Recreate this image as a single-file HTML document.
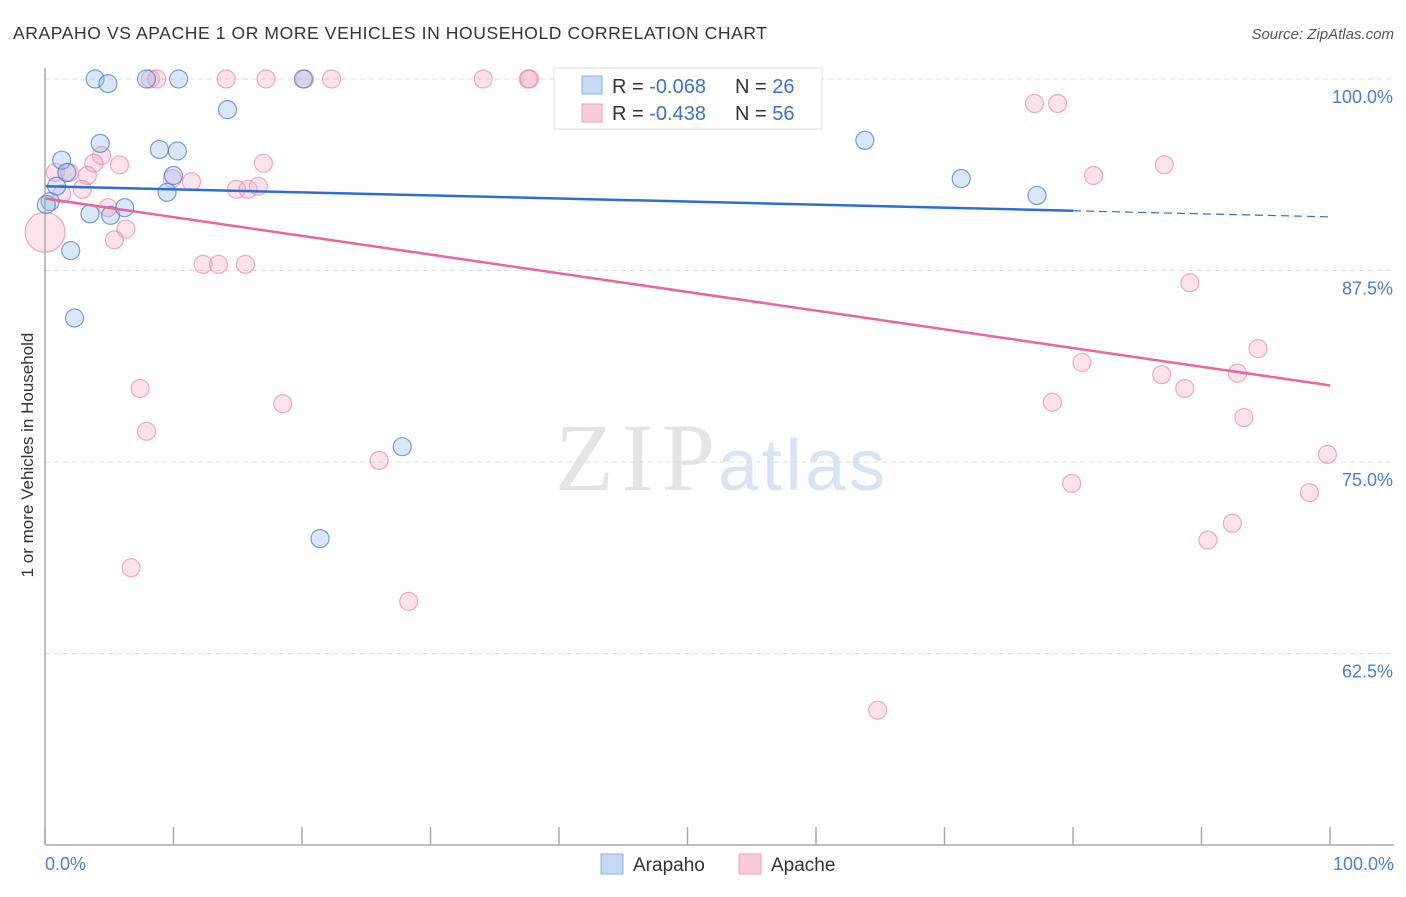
<!DOCTYPE html>
<html><head><meta charset="utf-8"><style>
body{margin:0;background:#fff;font-family:"Liberation Sans",sans-serif;}
#c{position:relative;width:1406px;height:892px;}
</style></head><body>
<div id="c">
<svg id="s" width="1406" height="892" xmlns="http://www.w3.org/2000/svg">
<text x="13" y="39" font-size="17.5" fill="#333" textLength="754">ARAPAHO VS APACHE 1 OR MORE VEHICLES IN HOUSEHOLD CORRELATION CHART</text>
<text x="1394" y="39" font-size="15" fill="#555" text-anchor="end" font-style="italic">Source: ZipAtlas.com</text>
<text x="555" y="490" font-size="96" fill="#e4e4e4" textLength="160" font-family="Liberation Serif">ZIP</text>
<text x="718" y="490" font-size="72" fill="#d6e4f5" textLength="167">atlas</text>
<text x="33" y="455" font-size="17" fill="#333" text-anchor="middle" transform="rotate(-90 33 455)">1 or more Vehicles in Household</text>
<g id="grid"></g><g id="pts"></g><g id="lines"></g>
<line x1="45" y1="68" x2="45" y2="845" stroke="#aaa" stroke-width="1.5"/>
<line x1="45" y1="845" x2="1394" y2="845" stroke="#aaa" stroke-width="1.5"/>
<text x="45" y="870" font-size="18" fill="#4a7fd4">0.0%</text>
<text x="1394" y="870" font-size="18" fill="#4a7fd4" text-anchor="end">100.0%</text>
<g>
<rect x="554" y="68" width="268" height="61" fill="#fff" stroke="#ddd"/>
<rect x="582" y="76" width="20" height="18" fill="#c6d9f5" stroke="#8ab0e8"/>
<rect x="582" y="104" width="20" height="18" fill="#f9cad8" stroke="#eea0b8"/>
<text x="612" y="93" font-size="20" fill="#333">R = <tspan fill="#3b73cc">-0.068</tspan><tspan x="735">N = </tspan><tspan fill="#3b73cc">26</tspan></text>
<text x="612" y="120" font-size="20" fill="#333">R = <tspan fill="#3b73cc">-0.438</tspan><tspan x="735">N = </tspan><tspan fill="#3b73cc">56</tspan></text>
</g>
<g>
<rect x="601" y="854" width="22" height="20" fill="#c6d9f5" stroke="#8ab0e8"/>
<text x="633" y="871" font-size="19" fill="#333">Arapaho</text>
<rect x="739" y="854" width="22" height="20" fill="#f9cad8" stroke="#eea0b8"/>
<text x="771" y="871" font-size="19" fill="#333">Apache</text>
</g>
</svg></div>
<script>
const yTicks=[100,87.5,75,62.5];
const yTickLabels=["100.0%","87.5%","75.0%","62.5%"];
const xTicks=[0,10,20,30,40,50,60,70,80,90,100];
const arapahoX=[3.9,4.9,7.9,10.4,20.1,14.2,4.3,1.3,8.9,10.3,1.7,0.9,10.0,9.5,0.4,0.1,3.5,5.1,6.2,2.0,2.3,27.8,21.4,63.8,71.3,77.2];
const arapahoY=[100,99.7,100,100,100,98.0,95.8,94.7,95.4,95.3,93.9,93.0,93.7,92.6,92.0,91.8,91.2,91.1,91.6,88.8,84.4,76.0,70.0,96.0,93.5,92.4];
const apacheX=[8.2,8.7,14.1,17.2,20.2,22.3,34.1,37.6,37.7,77.0,78.8,4.4,3.8,5.8,17.0,87.1,81.6,0.8,1.9,3.3,9.9,11.4,2.9,1.3,14.9,15.8,16.6,4.9,6.3,5.4,0,12.3,13.5,15.6,89.1,94.4,80.7,86.9,92.8,88.7,7.4,78.4,18.5,93.3,7.9,26.0,99.8,79.9,98.4,92.4,90.5,6.7,28.3,64.8];
const apacheY=[100,100,100,100,100,100,100,100,100,98.4,98.4,95.0,94.5,94.4,94.5,94.4,93.7,93.9,93.9,93.7,93.5,93.3,92.8,92.5,92.8,92.8,93.0,91.6,90.2,89.5,90.0,87.9,87.9,87.9,86.7,82.4,81.5,80.7,80.8,79.8,79.8,78.9,78.8,77.9,77.0,75.1,75.5,73.6,73.0,71.0,69.9,68.1,65.9,58.8];
const arapahoTrend=[93.0,91.0];
const apacheTrend=[92.2,80.0];
const X=v=>45+v*12.85, Y=v=>79+(100-v)*15.32;
const NS="http://www.w3.org/2000/svg";
function mk(t,a,p){const e=document.createElementNS(NS,t);for(const k in a)e.setAttribute(k,a[k]);p.appendChild(e);return e;}
const grid=document.getElementById('grid'),pts=document.getElementById('pts'),lines=document.getElementById('lines'),s=document.getElementById('s');
yTicks.forEach((t,i)=>{
 const l=mk('line',{x1:45,x2:1394,y1:Y(t),y2:Y(t),stroke:'#ddd','stroke-dasharray':'5,4'},grid);
 
 
 const tx=mk('text',{x:1393,y:Y(t)+24,'font-size':18,fill:'#4a7fd4','text-anchor':'end'},s);
 tx.textContent=yTickLabels[i];
 
 
});
xTicks.forEach(t=>{
 const l=mk('line',{x1:X(t),x2:X(t),y1:827,y2:845,stroke:'#aaa','stroke-width':1.5},grid);
 
 
});
apacheX.forEach((v,i)=>{
 const big=(v===0&&apacheY[i]===90.0);
 const c=mk('circle',{cx:X(v),cy:Y(apacheY[i]),r:big?20:9,fill:'rgba(245,160,185,0.3)',stroke:'rgba(230,120,155,0.6)','stroke-width':1.2},pts);
 
 
});
arapahoX.forEach((v,i)=>{
 const c=mk('circle',{cx:X(v),cy:Y(arapahoY[i]),r:9,fill:'rgba(150,185,235,0.35)',stroke:'rgba(60,120,210,0.7)','stroke-width':1.2},pts);
 
 
});
const at=v=>arapahoTrend[0]+(arapahoTrend[1]-arapahoTrend[0])*v/100;
let l1=mk('line',{x1:X(0),y1:Y(at(0)),x2:X(80),y2:Y(at(80)),stroke:'#2a6fd6','stroke-width':2.5},lines);


let l2=mk('line',{x1:X(80),y1:Y(at(80)),x2:X(100),y2:Y(at(100)),stroke:'#2a6fd6','stroke-width':1.2,'stroke-dasharray':'8,5'},lines);


let l3=mk('line',{x1:X(0),y1:Y(apacheTrend[0]),x2:X(100),y2:Y(apacheTrend[1]),stroke:'#e8679a','stroke-width':2.5},lines);


</script>
</body></html>
